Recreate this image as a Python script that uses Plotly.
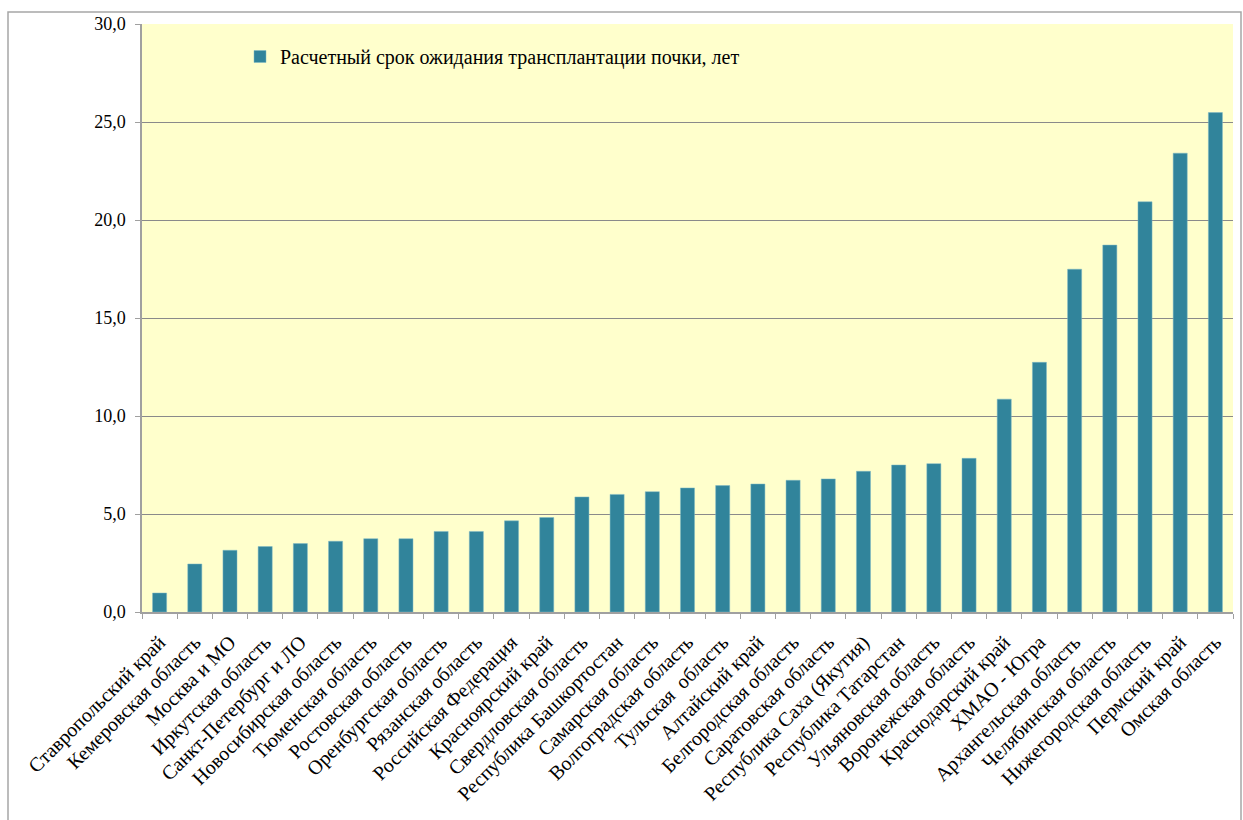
import plotly.graph_objects as go

regions = [
    "Ставропольский край", "Кемеровская область", "Москва и МО", "Иркутская область",
    "Санкт-Петербург и ЛО", "Новосибирская область", "Тюменская область",
    "Ростовская область", "Оренбургская область", "Рязанская область",
    "Российская Федерация", "Красноярский край", "Свердловская область",
    "Республика Башкортостан", "Самарская область", "Волгоградская область",
    "Тульская  область", "Алтайский край", "Белгородская область",
    "Саратовская область", "Республика Саха (Якутия)", "Республика Татарстан",
    "Ульяновская область", "Воронежская область", "Краснодарский край",
    "ХМАО - Югра", "Архангельская область", "Челябинская область",
    "Нижегородская область", "Пермский край", "Омская область",
]
wait_years = [
    0.97, 2.45, 3.15, 3.34, 3.49, 3.61, 3.74, 3.74, 4.11, 4.11,
    4.65, 4.82, 5.87, 6.00, 6.14, 6.33, 6.45, 6.53, 6.72, 6.79,
    7.18, 7.50, 7.57, 7.84, 10.86, 12.74, 17.49, 18.72, 20.93, 23.41, 25.48,
]
series_name = "Расчетный срок ожидания трансплантации почки, лет"
y_ticks = [0, 5, 10, 15, 20, 25, 30]
y_tick_text = ["0,0", "5,0", "10,0", "15,0", "20,0", "25,0", "30,0"]

FONT = "Liberation Serif"
GRID = "#8a8a8a"
AXIS = "#a0a0a0"

fig = go.Figure()
fig.add_trace(go.Bar(
    x=regions, y=wait_years, name=series_name,
    marker=dict(color="#31849b", line=dict(color="#7fb8c6", width=0.5)),
    showlegend=True,
))

# left/top/right/bottom of the plot area in pixels, for the frame shape
L, T, R, B = 142, 24, 1233, 612
W, H = R - L, B - T

def px_x(px):
    return (px - L) / W

def px_y(py):
    return (B - py) / H

fig.update_layout(
    width=1243, height=820,
    margin=dict(l=L, r=1243 - R, t=T, b=820 - B),
    paper_bgcolor="white",
    plot_bgcolor="#ffffcc",
    font=dict(family=FONT, size=20, color="black"),
    bargap=0.6,
    showlegend=True,
    legend=dict(
        x=px_x(240), y=px_y(37), xanchor="left", yanchor="top",
        bgcolor="rgba(0,0,0,0)", font=dict(family=FONT, size=20),
        itemwidth=30,
    ),
    xaxis=dict(
        type="category", tickangle=-45, tickson="boundaries",
        ticks="outside", ticklen=5, tickcolor=AXIS,
        showline=True, linecolor=AXIS, linewidth=1.5,
        showgrid=False, tickfont=dict(family=FONT, size=20),
        ticklabelstandoff=9,
        range=[-0.5, len(regions) - 0.5],
    ),
    yaxis=dict(
        range=[0, 30], tickvals=y_ticks, ticktext=y_tick_text,
        ticks="outside", ticklen=5, tickcolor=AXIS,
        showline=True, linecolor=AXIS, linewidth=1.5,
        showgrid=True, gridcolor=GRID, gridwidth=1,
        zeroline=False, tickfont=dict(family=FONT, size=18),
        ticklabelstandoff=6,
    ),
    shapes=[dict(
        type="rect", xref="paper", yref="paper",
        x0=px_x(8), x1=px_x(1241), y0=px_y(840), y1=px_y(12),
        line=dict(color="#a6a6a6", width=1.5), fillcolor="rgba(0,0,0,0)",
        layer="below",
    )],
)

fig.write_html("out.html")
